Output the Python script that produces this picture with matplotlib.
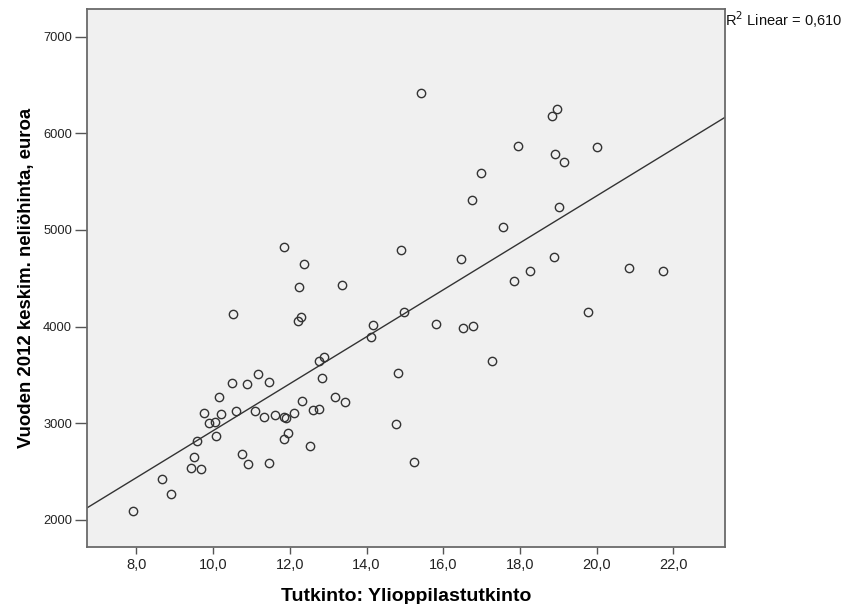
import matplotlib
matplotlib.use('Agg')

import numpy as np
import matplotlib.pyplot as plt

# ------------------------------------------------------------
# Data: share of matriculation exam graduates vs. 2012 price/m2
# ------------------------------------------------------------
tutkinto = [
    7.91, 8.67, 8.89, 9.43, 9.67, 9.49, 9.58, 10.07, 9.89, 10.06,
    9.76, 10.20, 10.16, 10.59, 10.49, 10.89, 11.18, 11.45, 11.09, 11.32,
    11.61, 11.85, 11.90, 12.11, 11.96, 11.85, 10.74, 10.91, 11.45, 12.52,
    12.32, 12.61, 12.76, 13.17, 13.44, 12.83, 12.76, 12.89, 14.11, 14.18,
    12.22, 12.30, 10.51, 12.24, 13.36, 12.37, 11.85,
    15.42, 18.97, 18.85, 17.96, 20.02, 18.92, 19.15, 16.99, 16.76, 19.02,
    17.56, 14.89,
    16.46, 18.90, 20.84, 21.74, 18.27, 17.85, 14.98, 19.77, 15.81, 16.52,
    16.77, 17.28, 14.82, 14.77, 15.24,
]
hinta = [
    2093, 2421, 2269, 2538, 2528, 2648, 2814, 2869, 3007, 3017,
    3107, 3093, 3269, 3131, 3420, 3407, 3507, 3428, 3131, 3069,
    3083, 3069, 3058, 3103, 2903, 2841, 2679, 2579, 2590, 2766,
    3231, 3134, 3148, 3276, 3224, 3466, 3641, 3690, 3890, 4020,
    4059, 4100, 4127, 4407, 4431, 4645, 4821,
    6414, 6255, 6179, 5866, 5855, 5783, 5700, 5593, 5310, 5235,
    5028, 4790,
    4697, 4721, 4603, 4579, 4576, 4472, 4152, 4155, 4024, 3990,
    4003, 3648, 3524, 2990, 2597,
]

x_ticks = [8, 10, 12, 14, 16, 18, 20, 22]
y_ticks = [2000, 3000, 4000, 5000, 6000, 7000]

plt.rcParams['font.family'] = ['Liberation Sans', 'DejaVu Sans']

fig = plt.figure(figsize=(8.43, 6.04), dpi=100)
ax = fig.add_axes([0.1028, 0.0949, 0.7572, 0.8902])
ax.set_facecolor('#f0f0f0')

x = np.array(tutkinto)
y = np.array(hinta)

# pisteet
ax.plot(x, y, linestyle='none', marker='o', markersize=6.0,
        markerfacecolor='none', markeredgecolor='#333333', markeredgewidth=1.0)

# lineaarinen sovitus
k, b = np.polyfit(x, y, 1)
xl = np.array([6.70, 23.35])
ax.plot(xl, k * xl + b, color='#333333', linewidth=1.0)

ax.set_xlim(6.70, 23.35)
ax.set_ylim(1724, 7286)

ax.set_xticks(x_ticks)
ax.set_xticklabels([f"{v:.1f}".replace('.', ',') for v in x_ticks])
ax.set_yticks(y_ticks)
ax.set_yticklabels([str(v) for v in y_ticks])

ax.tick_params(direction='out', width=1, color='#555555',
               labelcolor='#222222')
ax.tick_params(axis='x', length=5, labelsize=10.5, pad=3)
ax.tick_params(axis='y', length=9, labelsize=9.3, pad=1.5)
for s in ax.spines.values():
    s.set_color('#6a6a6a')
    s.set_linewidth(1.3)

ax.set_xlabel("Tutkinto: Ylioppilastutkinto", fontsize=14, fontweight='bold',
              labelpad=12)
ax.set_ylabel("Vuoden 2012 keskim. neliöhinta, euroa", fontsize=13.4,
              fontweight='bold', labelpad=6)

fig.text(725 / 843, 1 - 20 / 604, r"R$^2$ Linear = 0,610", fontsize=10.5,
         va='center', ha='left', color='#111111')

fig.savefig('out.png', dpi=100, facecolor='white')
